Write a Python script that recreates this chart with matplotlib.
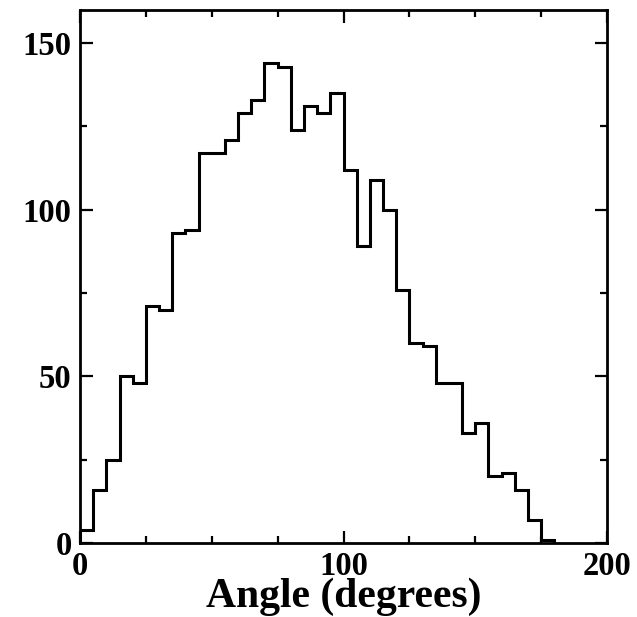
import numpy as np
import matplotlib
matplotlib.use("Agg")
import matplotlib.pyplot as plt
from matplotlib.ticker import MultipleLocator

# Histogram of angles, 5-degree bins starting at 0
bin_width = 5
counts = [4, 16, 25, 50, 48, 71, 70, 93, 94, 117, 117, 121, 129, 133, 144, 143,
          124, 131, 129, 135, 112, 89, 109, 100, 76, 60, 59, 48, 48, 33, 36, 20,
          21, 16, 7, 1]
edges = np.arange(len(counts) + 1) * bin_width

x_label = "Angle (degrees)"

plt.rcParams["font.family"] = ["Liberation Serif", "DejaVu Serif"]
plt.rcParams["font.weight"] = "bold"

fig = plt.figure(figsize=(6.37, 6.17), dpi=100)
ax = fig.add_axes([0.1256, 0.12, 0.8274, 0.864])

ax.stairs(counts, edges, color="black", linewidth=2.2)

ax.set_xlim(0, 200)
ax.set_ylim(0, 160)
ax.xaxis.set_major_locator(MultipleLocator(100))
ax.xaxis.set_minor_locator(MultipleLocator(25))
ax.yaxis.set_major_locator(MultipleLocator(50))
ax.yaxis.set_minor_locator(MultipleLocator(25))

ax.tick_params(which="both", direction="in", top=True, right=True, width=1.6)
ax.tick_params(which="major", length=9, labelsize=23.5)
ax.tick_params(axis="x", which="major", pad=5.5)
ax.tick_params(axis="y", which="major", pad=6)
ax.tick_params(which="minor", length=5)
for lab in ax.get_xticklabels() + ax.get_yticklabels():
    lab.set_fontweight("bold")
for sp in ax.spines.values():
    sp.set_linewidth(2)

ax.set_xlabel(x_label, fontsize=30, fontweight="bold", labelpad=-3)

fig.savefig("out.png", dpi=100)
